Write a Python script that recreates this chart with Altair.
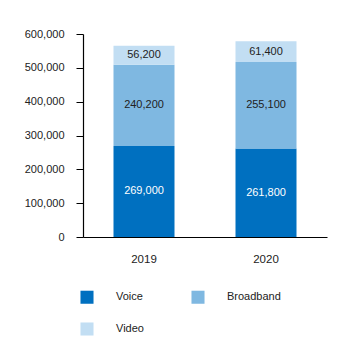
import altair as alt
import pandas as pd

years = ["2019", "2020"]
series = ["Voice", "Broadband", "Video"]
voice = [269000, 261800]
broadband = [240200, 255100]
video = [56200, 61400]
colors = ["#0070c0", "#7fb8e1", "#c2def3"]
text_colors = ["#ffffff", "#222222", "#222222"]

rows = []
for i, y in enumerate(years):
    for j, (s, vals) in enumerate(zip(series, [voice, broadband, video])):
        rows.append({"year": y, "series": s, "value": vals[i], "order": j,
                     "tcolor": text_colors[j]})
df = pd.DataFrame(rows)

# legend fills column-major: Voice, Video in column 1, Broadband in column 2
legend_order = ["Voice", "Video", "Broadband"]
legend_colors = [colors[series.index(s)] for s in legend_order]

FONT = "Liberation Sans"

base = alt.Chart(df).transform_stack(
    stack="value", groupby=["year"], as_=["v0", "v1"],
    sort=[alt.SortField("order", order="ascending")]
).transform_calculate(mid="(datum.v0 + datum.v1) / 2")

x_scale = alt.Scale(paddingInner=0.5, paddingOuter=0.25)
x_axis = alt.Axis(labelAngle=0, ticks=False, labelPadding=16, labelFontSize=11.5,
                  labelColor="#222222", domainColor="#000000", labelFont=FONT)
y_scale = alt.Scale(domain=[0, 600000], nice=False)
y_axis = alt.Axis(values=[0, 100000, 200000, 300000, 400000, 500000, 600000],
                  format=",.0f", grid=False, tickSize=7, tickColor="#000000",
                  domainColor="#000000", labelPadding=12, labelFontSize=11,
                  labelColor="#222222", labelFont=FONT, labelOverlap=False)

bars = base.mark_bar().encode(
    x=alt.X("year:N", title=None, scale=x_scale, axis=x_axis),
    y=alt.Y("v0:Q", title=None, scale=y_scale, axis=y_axis),
    y2="v1:Q",
    color=alt.Color("series:N",
                    scale=alt.Scale(domain=legend_order, range=legend_colors),
                    legend=alt.Legend(title=None, orient="none", legendX=-3, legendY=256,
                                      columns=2, symbolType="square", symbolSize=170,
                                      symbolStrokeWidth=0, labelOffset=22,
                                      labelFontSize=11, labelColor="#222222",
                                      labelFont=FONT, columnPadding=47, rowPadding=18,
                                      symbolOpacity=1)),
)

labels = base.mark_text(fontSize=11, font=FONT).encode(
    x=alt.X("year:N", title=None, scale=x_scale, axis=x_axis),
    y=alt.Y("mid:Q", title=None, scale=y_scale, axis=y_axis),
    text=alt.Text("value:Q", format=","),
    color=alt.Color("tcolor:N", scale=None),
)

chart = alt.layer(bars, labels).properties(
    width=244, height=203,
    autosize=alt.AutoSizeParams(type="none"),
    padding={"left": 75, "top": 26, "right": 25, "bottom": 119},
).configure_view(stroke=None).configure_axis(domainWidth=1.2)

chart.save("out.html", embed_options={"renderer": "svg", "actions": False})
